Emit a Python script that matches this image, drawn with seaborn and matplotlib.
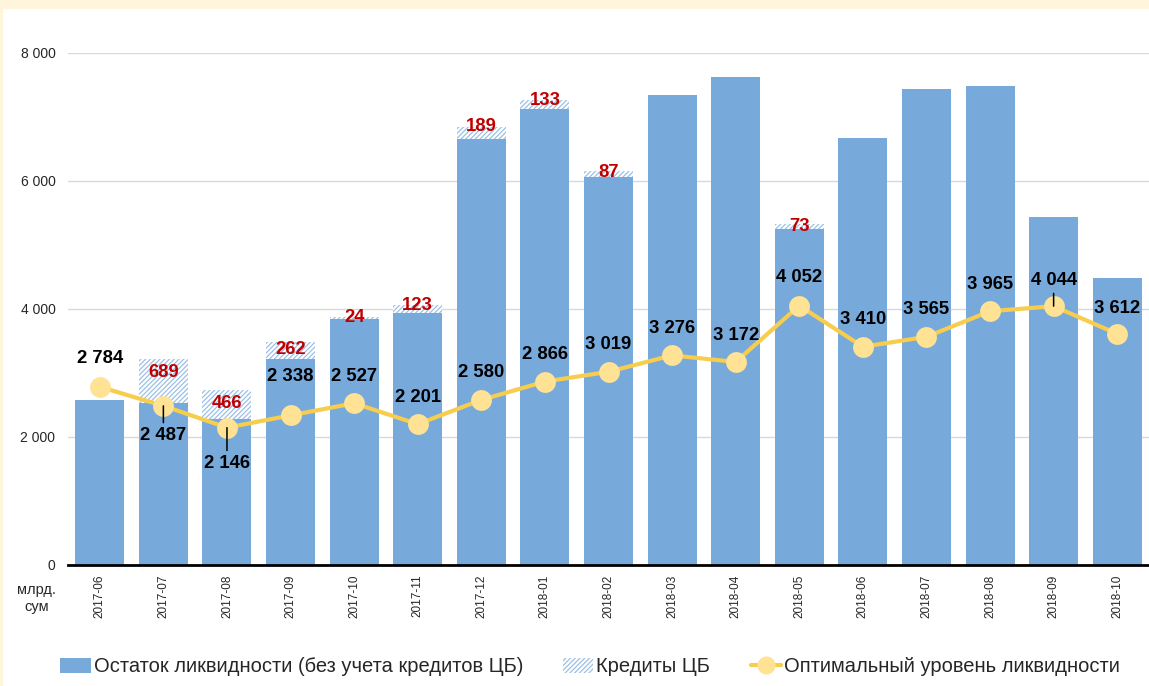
import numpy as np
import pandas as pd
import matplotlib
matplotlib.use("Agg")
import matplotlib.pyplot as plt
import matplotlib.patches as mpatches
import matplotlib.lines as mlines
import seaborn as sns

# --- data (млрд. сум) ---
months = ["2017-06", "2017-07", "2017-08", "2017-09", "2017-10", "2017-11",
          "2017-12", "2018-01", "2018-02", "2018-03", "2018-04", "2018-05",
          "2018-06", "2018-07", "2018-08", "2018-09", "2018-10"]
liquidity = [2580, 2530, 2275, 3220, 3850, 3935, 6660, 7130, 6070, 7345,
             7625, 5255, 6675, 7440, 7490, 5440, 4485]
cb_credits = [0, 689, 466, 262, 24, 123, 189, 133, 87, 0, 0, 73, 0, 0, 0, 0, 0]
optimal = [2784, 2487, 2146, 2338, 2527, 2201, 2580, 2866, 3019, 3276, 3172,
           4052, 3410, 3565, 3965, 4044, 3612]

# label placement (pixels): optimal-level labels, credit labels
opt_dy = [28, -30, -36, 39, 27, 27, 27, 27, 27, 27, 26, 28, 27, 27, 27, 26, 25]
opt_leader = [False, True, True, False, False, False, False, False, False,
              False, False, False, False, False, False, True, False]
cb_dy = [0, -14, -14, -7, 0, 0, 0, 0, -2, 0, 0, -2, 0, 0, 0, 0, 0]

BAR = "#78A9DB"
HATCH = "#9BC0E6"
LINE = "#F7CD4E"
MARK = "#FFE294"
CREAM = "#FFF5DD"
RED = "#C00000"

sns.set_theme(style="white")
plt.rcParams["font.family"] = ["Liberation Sans", "DejaVu Sans"]
plt.rcParams["hatch.linewidth"] = 0.9

df = pd.DataFrame({"month": months, "liquidity": liquidity,
                   "credits": cb_credits, "optimal": optimal})
df["total"] = df["liquidity"] + df["credits"]

fig = plt.figure(figsize=(11.49, 6.86), dpi=100, facecolor=CREAM)
# white panel inside the cream frame
fig.patches.append(mpatches.Rectangle((3 / 1149, 0), 1, 1 - 9 / 686,
                                      transform=fig.transFigure,
                                      facecolor="white", edgecolor="none",
                                      zorder=-5))
ax = fig.add_axes([68 / 1149, 1 - 565 / 686, 1 - 68 / 1149,
                   (565 - 53) / 686])
ax.set_zorder(2)
ax.set_facecolor("none")

# hatched credits drawn as full stack, liquidity bars on top
sns.barplot(data=df, x="month", y="total", ax=ax, color="white",
            edgecolor=HATCH, hatch="///////", linewidth=0, width=0.77,
            saturation=1, zorder=2)
sns.barplot(data=df, x="month", y="liquidity", ax=ax, color=BAR,
            linewidth=0, width=0.77, saturation=1, zorder=3)
sns.lineplot(x=np.arange(len(months)), y=df["optimal"], ax=ax, color=LINE,
             lw=3, marker="o", markersize=15, markerfacecolor=MARK,
             markeredgewidth=0, zorder=5)

ax.set_xlim(-0.5, len(months) - 0.5)
ax.set_ylim(0, 8000)
ax.set_yticks([0, 2000, 4000, 6000, 8000])
ax.set_yticklabels(["0", "2 000", "4 000", "6 000", "8 000"],
                   fontsize=10, color="#262626")
ax.tick_params(axis="y", length=0, pad=9)
ax.tick_params(axis="x", length=0, pad=7)
ax.set_xticks(range(len(months)))
ax.set_xticklabels(months, rotation=90, fontsize=8.5, color="#262626")
ax.set_xlabel("")
ax.set_ylabel("")
ax.yaxis.grid(True, color="#D9D9D9", lw=1)
ax.set_axisbelow(True)
for s in ["top", "right", "left"]:
    ax.spines[s].set_visible(False)
ax.spines["bottom"].set_color("black")
ax.spines["bottom"].set_linewidth(2)
ax.spines["bottom"].set_zorder(6)
ax.text(-0.029, -0.035, "млрд.\nсум", transform=ax.transAxes, ha="center",
        va="top", fontsize=10.5, color="#262626", linespacing=1.3)

def fmt(v):
    return f"{v:,}".replace(",", " ")

for i, v in enumerate(optimal):
    kw = dict(textcoords="offset pixels", ha="center", va="center",
              fontsize=13.3, fontweight="bold", color="black", zorder=7,
              annotation_clip=False)
    if opt_leader[i]:
        kw["arrowprops"] = dict(arrowstyle="-", lw=1.1, color="black",
                                shrinkA=1, shrinkB=0)
    ax.annotate(fmt(v), xy=(i, v), xytext=(0, opt_dy[i]), **kw)

for i, c in enumerate(cb_credits):
    if c:
        ax.annotate(str(c), xy=(i, liquidity[i] + c),
                    xytext=(0, cb_dy[i]), textcoords="offset pixels",
                    ha="center", va="center", fontsize=13.3,
                    fontweight="bold", color=RED, zorder=7)

h1 = mpatches.Patch(facecolor=BAR, edgecolor="none")
h2 = mpatches.Patch(facecolor="white", edgecolor=HATCH, hatch="///////",
                    linewidth=0)
h3 = mlines.Line2D([], [], color=LINE, lw=3, marker="o", markersize=13,
                   markerfacecolor=MARK, markeredgewidth=0)
fig.legend([h1, h2, h3],
           ["Остаток ликвидности (без учета кредитов ЦБ)", "Кредиты ЦБ",
            "Оптимальный уровень ликвидности"],
           loc="center", bbox_to_anchor=(590 / 1149, 1 - 667 / 686),
           ncol=3, frameon=False, fontsize=14.5, handlelength=1.5,
           handleheight=0.8, handletextpad=0.15, columnspacing=2.0)

fig.savefig("out.png", dpi=100, facecolor=CREAM)
